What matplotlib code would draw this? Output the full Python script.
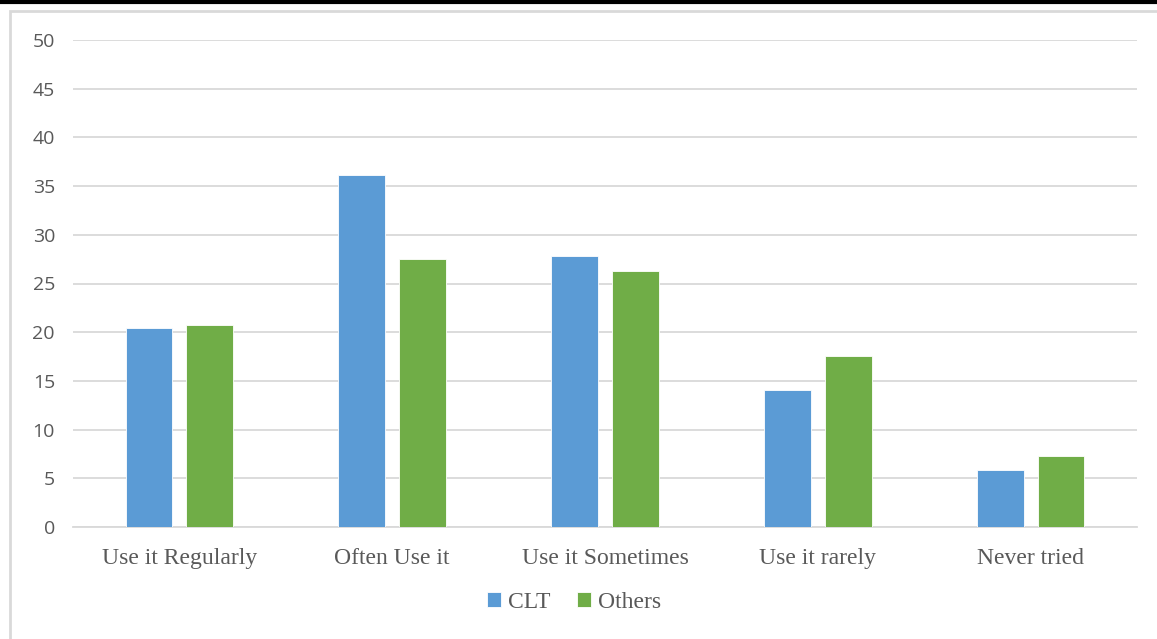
import numpy as np
import matplotlib
matplotlib.use("Agg")
import matplotlib.pyplot as plt
from matplotlib.patches import Rectangle
from matplotlib.lines import Line2D

# 数据
categories = ["Use it Regularly", "Often Use it", "Use it Sometimes", "Use it rarely", "Never tried"]
clt = [20.4, 36.1, 27.8, 14.1, 5.85]
others = [20.7, 27.5, 26.3, 17.6, 7.3]
yticks = [0, 5, 10, 15, 20, 25, 30, 35, 40, 45, 50]

BLUE = "#5B9BD5"
GREEN = "#70AD47"
TEXT = "#595959"
GRID = "#D9D9D9"

fig = plt.figure(figsize=(11.57, 6.39), dpi=100)
fig.patch.set_facecolor("white")

# 外框（灰色）和顶部黑线
fig.add_artist(Rectangle((10 / 1157, -0.01), 1.0, 1 - 11 / 639 + 0.01,
                         transform=fig.transFigure, fill=False,
                         edgecolor=GRID, linewidth=2))
fig.add_artist(Line2D([0, 1], [1 - 1.5 / 639, 1 - 1.5 / 639],
                      transform=fig.transFigure, color="black", linewidth=3))

ax = fig.add_axes([73 / 1157, 1 - 527 / 639, (1137 - 73) / 1157, (527 - 40) / 639])

x = np.arange(len(categories))
w = 0.22
gap = 0.066
ax.bar(x - (w + gap) / 2, clt, w, color=BLUE, edgecolor="white", linewidth=0.6, label="CLT", zorder=3)
ax.bar(x + (w + gap) / 2, others, w, color=GREEN, edgecolor="white", linewidth=0.6, label="Others", zorder=3)

ax.set_xlim(-0.5, len(categories) - 0.5)
ax.set_ylim(0, 50)
ax.set_yticks(yticks)
ax.yaxis.grid(True, color=GRID, linewidth=1.3, zorder=0)
ax.set_axisbelow(True)
for s in ["top", "right", "left"]:
    ax.spines[s].set_visible(False)
ax.spines["bottom"].set_color(GRID)
ax.spines["bottom"].set_linewidth(1.3)
ax.tick_params(axis="both", length=0)
ax.tick_params(axis="y", pad=13)
ax.tick_params(axis="x", pad=15)

ax.set_xticks(x)
ax.set_xticklabels(categories, family="Liberation Serif", fontsize=17, color=TEXT)
for lab in ax.get_yticklabels():
    lab.set_family("Open Sans")
    lab.set_fontsize(14)
    lab.set_color(TEXT)

leg = fig.legend(loc="center", bbox_to_anchor=(574 / 1157, 1 - 602 / 639), ncol=2,
                 frameon=False, prop={"family": "Liberation Serif", "size": 17},
                 handlelength=0.6, handleheight=0.6, handletextpad=0.3, columnspacing=1.1)
for t in leg.get_texts():
    t.set_color(TEXT)

fig.savefig("out.png", dpi=100, facecolor="white")
